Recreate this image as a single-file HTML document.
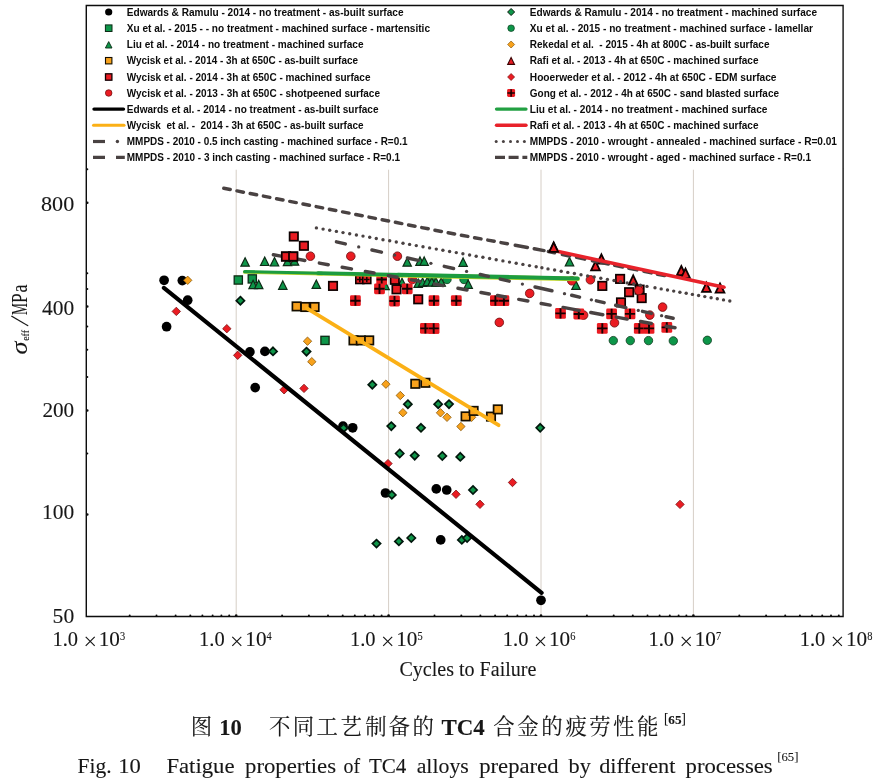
<!DOCTYPE html>
<html><head><meta charset="utf-8"><title>Fig. 10</title>
<style>html,body{margin:0;padding:0;background:#fff}body{width:883px;height:783px;position:relative;overflow:hidden;font-family:"Liberation Serif",serif}</style></head>
<body>
<svg width="883" height="783" viewBox="0 0 883 783" style="position:absolute;left:0;top:0;display:block">
<defs><filter id="bl" x="-2%" y="-2%" width="104%" height="104%"><feGaussianBlur stdDeviation="0.45"/></filter><filter id="bl2" x="-2%" y="-2%" width="104%" height="104%"><feGaussianBlur stdDeviation="0.3"/></filter></defs>
<rect width="883" height="783" fill="#fff"/>
<line x1="236.2" y1="169.7" x2="236.2" y2="616.5" stroke="#d6cec6" stroke-width="1"/>
<line x1="388.6" y1="169.7" x2="388.6" y2="616.5" stroke="#d6cec6" stroke-width="1"/>
<line x1="541.0" y1="169.7" x2="541.0" y2="616.5" stroke="#d6cec6" stroke-width="1"/>
<line x1="693.4" y1="169.7" x2="693.4" y2="616.5" stroke="#d6cec6" stroke-width="1"/>
<g filter="url(#bl)">
<circle cx="164.1" cy="280.3" r="4.85" fill="#000"/>
<circle cx="182.3" cy="280.6" r="4.85" fill="#000"/>
<circle cx="187.7" cy="300.2" r="4.85" fill="#000"/>
<circle cx="166.6" cy="326.7" r="4.85" fill="#000"/>
<circle cx="249.9" cy="351.9" r="4.85" fill="#000"/>
<circle cx="264.9" cy="351.4" r="4.85" fill="#000"/>
<circle cx="255.2" cy="387.6" r="4.85" fill="#000"/>
<circle cx="343.0" cy="426.2" r="4.85" fill="#000"/>
<circle cx="352.7" cy="427.8" r="4.85" fill="#000"/>
<circle cx="385.5" cy="493.0" r="4.85" fill="#000"/>
<circle cx="436.3" cy="488.9" r="4.85" fill="#000"/>
<circle cx="446.7" cy="490.0" r="4.85" fill="#000"/>
<circle cx="440.7" cy="539.9" r="4.85" fill="#000"/>
<circle cx="541.0" cy="600.3" r="4.85" fill="#000"/>
<path d="M240.4 296.6L244.5 300.7L240.4 304.8L236.3 300.7Z" fill="#10964a" stroke="#06180c" stroke-width="1.7" stroke-linejoin="miter"/>
<path d="M273.0 347.3L277.1 351.4L273.0 355.4L268.9 351.4Z" fill="#10964a" stroke="#06180c" stroke-width="1.7" stroke-linejoin="miter"/>
<path d="M306.5 347.6L310.6 351.6L306.5 355.7L302.4 351.6Z" fill="#10964a" stroke="#06180c" stroke-width="1.7" stroke-linejoin="miter"/>
<path d="M343.5 424.1L347.6 428.2L343.5 432.2L339.4 428.2Z" fill="#10964a" stroke="#06180c" stroke-width="1.7" stroke-linejoin="miter"/>
<path d="M372.3 380.6L376.4 384.7L372.3 388.8L368.2 384.7Z" fill="#10964a" stroke="#06180c" stroke-width="1.7" stroke-linejoin="miter"/>
<path d="M407.9 400.1L411.9 404.2L407.9 408.2L403.8 404.2Z" fill="#10964a" stroke="#06180c" stroke-width="1.7" stroke-linejoin="miter"/>
<path d="M438.2 400.1L442.2 404.2L438.2 408.2L434.1 404.2Z" fill="#10964a" stroke="#06180c" stroke-width="1.7" stroke-linejoin="miter"/>
<path d="M449.0 400.1L453.1 404.1L449.0 408.2L444.9 404.1Z" fill="#10964a" stroke="#06180c" stroke-width="1.7" stroke-linejoin="miter"/>
<path d="M391.3 422.1L395.4 426.1L391.3 430.2L387.2 426.1Z" fill="#10964a" stroke="#06180c" stroke-width="1.7" stroke-linejoin="miter"/>
<path d="M421.0 423.8L425.1 427.8L421.0 431.9L416.9 427.8Z" fill="#10964a" stroke="#06180c" stroke-width="1.7" stroke-linejoin="miter"/>
<path d="M399.7 449.4L403.8 453.5L399.7 457.6L395.6 453.5Z" fill="#10964a" stroke="#06180c" stroke-width="1.7" stroke-linejoin="miter"/>
<path d="M414.7 451.6L418.8 455.6L414.7 459.7L410.6 455.6Z" fill="#10964a" stroke="#06180c" stroke-width="1.7" stroke-linejoin="miter"/>
<path d="M442.3 451.9L446.4 456.0L442.3 460.1L438.2 456.0Z" fill="#10964a" stroke="#06180c" stroke-width="1.7" stroke-linejoin="miter"/>
<path d="M460.3 452.8L464.4 456.9L460.3 460.9L456.2 456.9Z" fill="#10964a" stroke="#06180c" stroke-width="1.7" stroke-linejoin="miter"/>
<path d="M540.2 423.8L544.2 427.8L540.2 431.9L536.2 427.8Z" fill="#10964a" stroke="#06180c" stroke-width="1.7" stroke-linejoin="miter"/>
<path d="M473.0 485.9L477.1 490.0L473.0 494.1L468.9 490.0Z" fill="#10964a" stroke="#06180c" stroke-width="1.7" stroke-linejoin="miter"/>
<path d="M391.8 490.8L395.9 494.9L391.8 498.9L387.8 494.9Z" fill="#10964a" stroke="#06180c" stroke-width="1.7" stroke-linejoin="miter"/>
<path d="M376.5 539.6L380.6 543.6L376.5 547.6L372.4 543.6Z" fill="#10964a" stroke="#06180c" stroke-width="1.7" stroke-linejoin="miter"/>
<path d="M398.9 537.4L402.9 541.4L398.9 545.4L394.8 541.4Z" fill="#10964a" stroke="#06180c" stroke-width="1.7" stroke-linejoin="miter"/>
<path d="M411.3 534.0L415.4 538.0L411.3 542.0L407.2 538.0Z" fill="#10964a" stroke="#06180c" stroke-width="1.7" stroke-linejoin="miter"/>
<path d="M461.8 535.9L465.9 539.9L461.8 543.9L457.8 539.9Z" fill="#10964a" stroke="#06180c" stroke-width="1.7" stroke-linejoin="miter"/>
<path d="M467.1 534.0L471.2 538.0L467.1 542.0L463.1 538.0Z" fill="#10964a" stroke="#06180c" stroke-width="1.7" stroke-linejoin="miter"/>
<rect x="234.2" y="275.9" width="8.2" height="8.2" fill="#10964a" stroke="#0a2a14" stroke-width="1.3"/>
<rect x="248.2" y="274.8" width="8.2" height="8.2" fill="#10964a" stroke="#0a2a14" stroke-width="1.3"/>
<rect x="320.9" y="336.3" width="8.2" height="8.2" fill="#10964a" stroke="#0a2a14" stroke-width="1.3"/>
<circle cx="430.8" cy="279.5" r="4.2" fill="#10964a" stroke="#0a3a1c" stroke-width="0.8"/>
<circle cx="447.0" cy="279.5" r="4.2" fill="#10964a" stroke="#0a3a1c" stroke-width="0.8"/>
<circle cx="464.0" cy="279.5" r="4.2" fill="#10964a" stroke="#0a3a1c" stroke-width="0.8"/>
<circle cx="613.3" cy="340.6" r="4.2" fill="#10964a" stroke="#0a3a1c" stroke-width="0.8"/>
<circle cx="630.3" cy="340.6" r="4.2" fill="#10964a" stroke="#0a3a1c" stroke-width="0.8"/>
<circle cx="648.5" cy="340.6" r="4.2" fill="#10964a" stroke="#0a3a1c" stroke-width="0.8"/>
<circle cx="673.3" cy="340.9" r="4.2" fill="#10964a" stroke="#0a3a1c" stroke-width="0.8"/>
<circle cx="707.3" cy="340.3" r="4.2" fill="#10964a" stroke="#0a3a1c" stroke-width="0.8"/>
<path d="M245.1 257.8L249.3 266.2L240.9 266.2Z" fill="#10964a" stroke="#0a2a14" stroke-width="1.2" stroke-linejoin="miter"/>
<path d="M264.7 257.1L268.9 265.5L260.5 265.5Z" fill="#10964a" stroke="#0a2a14" stroke-width="1.2" stroke-linejoin="miter"/>
<path d="M274.5 257.6L278.7 266.0L270.3 266.0Z" fill="#10964a" stroke="#0a2a14" stroke-width="1.2" stroke-linejoin="miter"/>
<path d="M287.5 257.3L291.7 265.7L283.3 265.7Z" fill="#10964a" stroke="#0a2a14" stroke-width="1.2" stroke-linejoin="miter"/>
<path d="M294.5 256.8L298.7 265.2L290.3 265.2Z" fill="#10964a" stroke="#0a2a14" stroke-width="1.2" stroke-linejoin="miter"/>
<path d="M253.1 280.3L257.3 288.7L248.9 288.7Z" fill="#10964a" stroke="#0a2a14" stroke-width="1.2" stroke-linejoin="miter"/>
<path d="M258.7 280.3L262.9 288.7L254.5 288.7Z" fill="#10964a" stroke="#0a2a14" stroke-width="1.2" stroke-linejoin="miter"/>
<path d="M282.8 280.9L287.0 289.3L278.6 289.3Z" fill="#10964a" stroke="#0a2a14" stroke-width="1.2" stroke-linejoin="miter"/>
<path d="M316.3 280.0L320.5 288.4L312.1 288.4Z" fill="#10964a" stroke="#0a2a14" stroke-width="1.2" stroke-linejoin="miter"/>
<path d="M407.2 257.8L411.4 266.2L403.0 266.2Z" fill="#10964a" stroke="#0a2a14" stroke-width="1.2" stroke-linejoin="miter"/>
<path d="M420.0 256.9L424.2 265.3L415.8 265.3Z" fill="#10964a" stroke="#0a2a14" stroke-width="1.2" stroke-linejoin="miter"/>
<path d="M424.2 256.9L428.4 265.3L420.0 265.3Z" fill="#10964a" stroke="#0a2a14" stroke-width="1.2" stroke-linejoin="miter"/>
<path d="M385.1 281.2L389.3 289.6L380.9 289.6Z" fill="#10964a" stroke="#0a2a14" stroke-width="1.2" stroke-linejoin="miter"/>
<path d="M402.0 278.3L406.2 286.7L397.8 286.7Z" fill="#10964a" stroke="#0a2a14" stroke-width="1.2" stroke-linejoin="miter"/>
<path d="M418.2 279.0L422.4 287.4L414.0 287.4Z" fill="#10964a" stroke="#0a2a14" stroke-width="1.2" stroke-linejoin="miter"/>
<path d="M422.6 278.0L426.8 286.4L418.4 286.4Z" fill="#10964a" stroke="#0a2a14" stroke-width="1.2" stroke-linejoin="miter"/>
<path d="M427.3 277.3L431.5 285.7L423.1 285.7Z" fill="#10964a" stroke="#0a2a14" stroke-width="1.2" stroke-linejoin="miter"/>
<path d="M431.8 277.8L436.0 286.2L427.6 286.2Z" fill="#10964a" stroke="#0a2a14" stroke-width="1.2" stroke-linejoin="miter"/>
<path d="M436.0 277.8L440.2 286.2L431.8 286.2Z" fill="#10964a" stroke="#0a2a14" stroke-width="1.2" stroke-linejoin="miter"/>
<path d="M441.2 277.8L445.4 286.2L437.0 286.2Z" fill="#10964a" stroke="#0a2a14" stroke-width="1.2" stroke-linejoin="miter"/>
<path d="M463.1 257.9L467.3 266.3L458.9 266.3Z" fill="#10964a" stroke="#0a2a14" stroke-width="1.2" stroke-linejoin="miter"/>
<path d="M468.2 280.0L472.4 288.4L464.0 288.4Z" fill="#10964a" stroke="#0a2a14" stroke-width="1.2" stroke-linejoin="miter"/>
<path d="M569.5 257.4L573.7 265.8L565.3 265.8Z" fill="#10964a" stroke="#0a2a14" stroke-width="1.2" stroke-linejoin="miter"/>
<path d="M576.0 281.0L580.2 289.4L571.8 289.4Z" fill="#10964a" stroke="#0a2a14" stroke-width="1.2" stroke-linejoin="miter"/>
<path d="M187.7 276.1L191.9 280.3L187.7 284.5L183.5 280.3Z" fill="#f8a21c" stroke="#8a5a10" stroke-width="0.8" stroke-linejoin="miter"/>
<path d="M307.5 337.0L311.7 341.2L307.5 345.4L303.3 341.2Z" fill="#f8a21c" stroke="#8a5a10" stroke-width="0.8" stroke-linejoin="miter"/>
<path d="M311.8 357.5L316.0 361.7L311.8 365.9L307.6 361.7Z" fill="#f8a21c" stroke="#8a5a10" stroke-width="0.8" stroke-linejoin="miter"/>
<path d="M385.9 380.0L390.1 384.2L385.9 388.4L381.7 384.2Z" fill="#f8a21c" stroke="#8a5a10" stroke-width="0.8" stroke-linejoin="miter"/>
<path d="M400.3 391.3L404.5 395.5L400.3 399.7L396.1 395.5Z" fill="#f8a21c" stroke="#8a5a10" stroke-width="0.8" stroke-linejoin="miter"/>
<path d="M402.9 408.5L407.1 412.7L402.9 416.9L398.7 412.7Z" fill="#f8a21c" stroke="#8a5a10" stroke-width="0.8" stroke-linejoin="miter"/>
<path d="M440.5 408.6L444.7 412.8L440.5 417.0L436.3 412.8Z" fill="#f8a21c" stroke="#8a5a10" stroke-width="0.8" stroke-linejoin="miter"/>
<path d="M447.0 413.1L451.2 417.3L447.0 421.5L442.8 417.3Z" fill="#f8a21c" stroke="#8a5a10" stroke-width="0.8" stroke-linejoin="miter"/>
<path d="M460.9 422.3L465.1 426.5L460.9 430.7L456.7 426.5Z" fill="#f8a21c" stroke="#8a5a10" stroke-width="0.8" stroke-linejoin="miter"/>
<path d="M471.6 413.1L475.8 417.3L471.6 421.5L467.4 417.3Z" fill="#f8a21c" stroke="#8a5a10" stroke-width="0.8" stroke-linejoin="miter"/>
<rect x="292.4" y="302.2" width="8.4" height="8.4" fill="#f8a21c" stroke="#141000" stroke-width="1.7"/>
<rect x="301.1" y="302.8" width="8.4" height="8.4" fill="#f8a21c" stroke="#141000" stroke-width="1.7"/>
<rect x="310.4" y="302.8" width="8.4" height="8.4" fill="#f8a21c" stroke="#141000" stroke-width="1.7"/>
<rect x="349.3" y="336.2" width="8.4" height="8.4" fill="#f8a21c" stroke="#141000" stroke-width="1.7"/>
<rect x="356.6" y="336.2" width="8.4" height="8.4" fill="#f8a21c" stroke="#141000" stroke-width="1.7"/>
<rect x="365.0" y="336.2" width="8.4" height="8.4" fill="#f8a21c" stroke="#141000" stroke-width="1.7"/>
<rect x="411.1" y="379.6" width="8.4" height="8.4" fill="#f8a21c" stroke="#141000" stroke-width="1.7"/>
<rect x="421.2" y="378.6" width="8.4" height="8.4" fill="#f8a21c" stroke="#141000" stroke-width="1.7"/>
<rect x="461.4" y="412.2" width="8.4" height="8.4" fill="#f8a21c" stroke="#141000" stroke-width="1.7"/>
<rect x="469.4" y="406.7" width="8.4" height="8.4" fill="#f8a21c" stroke="#141000" stroke-width="1.7"/>
<rect x="486.8" y="412.4" width="8.4" height="8.4" fill="#f8a21c" stroke="#141000" stroke-width="1.7"/>
<rect x="493.6" y="405.2" width="8.4" height="8.4" fill="#f8a21c" stroke="#141000" stroke-width="1.7"/>
<path d="M553.7 242.7L558.1 251.9L549.3 251.9Z" fill="#ea1c24" stroke="#100000" stroke-width="1.8" stroke-linejoin="miter"/>
<path d="M601.4 254.4L605.8 263.6L597.0 263.6Z" fill="#ea1c24" stroke="#100000" stroke-width="1.8" stroke-linejoin="miter"/>
<path d="M595.5 261.1L599.9 270.3L591.1 270.3Z" fill="#ea1c24" stroke="#100000" stroke-width="1.8" stroke-linejoin="miter"/>
<path d="M633.2 275.4L637.6 284.6L628.8 284.6Z" fill="#ea1c24" stroke="#100000" stroke-width="1.8" stroke-linejoin="miter"/>
<path d="M681.3 266.0L685.7 275.2L676.9 275.2Z" fill="#ea1c24" stroke="#100000" stroke-width="1.8" stroke-linejoin="miter"/>
<path d="M685.5 268.6L689.9 277.8L681.1 277.8Z" fill="#ea1c24" stroke="#100000" stroke-width="1.8" stroke-linejoin="miter"/>
<path d="M706.4 282.7L710.8 291.9L702.0 291.9Z" fill="#ea1c24" stroke="#100000" stroke-width="1.8" stroke-linejoin="miter"/>
<path d="M720.0 283.5L724.4 292.7L715.6 292.7Z" fill="#ea1c24" stroke="#100000" stroke-width="1.8" stroke-linejoin="miter"/>
<rect x="289.6" y="232.3" width="8.4" height="8.4" fill="#ea1c24" stroke="#100000" stroke-width="1.7"/>
<rect x="299.7" y="241.6" width="8.4" height="8.4" fill="#ea1c24" stroke="#100000" stroke-width="1.7"/>
<rect x="281.8" y="252.3" width="8.4" height="8.4" fill="#ea1c24" stroke="#100000" stroke-width="1.7"/>
<rect x="289.0" y="252.3" width="8.4" height="8.4" fill="#ea1c24" stroke="#100000" stroke-width="1.7"/>
<rect x="328.8" y="281.7" width="8.4" height="8.4" fill="#ea1c24" stroke="#100000" stroke-width="1.7"/>
<rect x="390.6" y="275.6" width="8.4" height="8.4" fill="#ea1c24" stroke="#100000" stroke-width="1.7"/>
<rect x="392.3" y="285.1" width="8.4" height="8.4" fill="#ea1c24" stroke="#100000" stroke-width="1.7"/>
<rect x="414.0" y="295.1" width="8.4" height="8.4" fill="#ea1c24" stroke="#100000" stroke-width="1.7"/>
<rect x="615.9" y="274.7" width="8.4" height="8.4" fill="#ea1c24" stroke="#100000" stroke-width="1.7"/>
<rect x="598.1" y="281.7" width="8.4" height="8.4" fill="#ea1c24" stroke="#100000" stroke-width="1.7"/>
<rect x="624.9" y="288.0" width="8.4" height="8.4" fill="#ea1c24" stroke="#100000" stroke-width="1.7"/>
<rect x="635.4" y="285.4" width="8.4" height="8.4" fill="#ea1c24" stroke="#100000" stroke-width="1.7"/>
<rect x="637.5" y="293.9" width="8.4" height="8.4" fill="#ea1c24" stroke="#100000" stroke-width="1.7"/>
<rect x="616.8" y="298.2" width="8.4" height="8.4" fill="#ea1c24" stroke="#100000" stroke-width="1.7"/>
<path d="M176.3 307.2L180.5 311.4L176.3 315.6L172.1 311.4Z" fill="#ea1c24" stroke="#7a1010" stroke-width="0.8" stroke-linejoin="miter"/>
<path d="M226.8 324.5L231.0 328.7L226.8 332.9L222.6 328.7Z" fill="#ea1c24" stroke="#7a1010" stroke-width="0.8" stroke-linejoin="miter"/>
<path d="M237.7 351.1L241.9 355.3L237.7 359.5L233.5 355.3Z" fill="#ea1c24" stroke="#7a1010" stroke-width="0.8" stroke-linejoin="miter"/>
<path d="M284.1 385.6L288.3 389.8L284.1 394.0L279.9 389.8Z" fill="#ea1c24" stroke="#7a1010" stroke-width="0.8" stroke-linejoin="miter"/>
<path d="M304.0 384.2L308.2 388.4L304.0 392.6L299.8 388.4Z" fill="#ea1c24" stroke="#7a1010" stroke-width="0.8" stroke-linejoin="miter"/>
<path d="M388.0 459.4L392.2 463.6L388.0 467.8L383.8 463.6Z" fill="#ea1c24" stroke="#7a1010" stroke-width="0.8" stroke-linejoin="miter"/>
<path d="M456.0 490.1L460.2 494.3L456.0 498.5L451.8 494.3Z" fill="#ea1c24" stroke="#7a1010" stroke-width="0.8" stroke-linejoin="miter"/>
<path d="M480.0 500.1L484.2 504.3L480.0 508.5L475.8 504.3Z" fill="#ea1c24" stroke="#7a1010" stroke-width="0.8" stroke-linejoin="miter"/>
<path d="M512.5 478.3L516.7 482.5L512.5 486.7L508.3 482.5Z" fill="#ea1c24" stroke="#7a1010" stroke-width="0.8" stroke-linejoin="miter"/>
<path d="M680.0 500.2L684.2 504.4L680.0 508.6L675.8 504.4Z" fill="#ea1c24" stroke="#7a1010" stroke-width="0.8" stroke-linejoin="miter"/>
<circle cx="310.4" cy="256.2" r="4.3" fill="#ea1c24" stroke="#6a0c0c" stroke-width="0.8"/>
<circle cx="350.8" cy="256.2" r="4.3" fill="#ea1c24" stroke="#6a0c0c" stroke-width="0.8"/>
<circle cx="397.4" cy="256.2" r="4.3" fill="#ea1c24" stroke="#6a0c0c" stroke-width="0.8"/>
<circle cx="412.3" cy="279.5" r="4.3" fill="#ea1c24" stroke="#6a0c0c" stroke-width="0.8"/>
<circle cx="529.7" cy="293.4" r="4.3" fill="#ea1c24" stroke="#6a0c0c" stroke-width="0.8"/>
<circle cx="499.3" cy="322.4" r="4.3" fill="#ea1c24" stroke="#6a0c0c" stroke-width="0.8"/>
<circle cx="571.8" cy="280.8" r="4.3" fill="#ea1c24" stroke="#6a0c0c" stroke-width="0.8"/>
<circle cx="590.4" cy="279.8" r="4.3" fill="#ea1c24" stroke="#6a0c0c" stroke-width="0.8"/>
<circle cx="638.8" cy="290.5" r="4.3" fill="#ea1c24" stroke="#6a0c0c" stroke-width="0.8"/>
<circle cx="662.6" cy="307.1" r="4.3" fill="#ea1c24" stroke="#6a0c0c" stroke-width="0.8"/>
<circle cx="649.8" cy="315.1" r="4.3" fill="#ea1c24" stroke="#6a0c0c" stroke-width="0.8"/>
<circle cx="583.6" cy="315.1" r="4.3" fill="#ea1c24" stroke="#6a0c0c" stroke-width="0.8"/>
<circle cx="614.5" cy="322.8" r="4.3" fill="#ea1c24" stroke="#6a0c0c" stroke-width="0.8"/>
<rect x="355.8" y="275.5" width="8.0" height="8.0" fill="#ea1c24" stroke="#100000" stroke-width="1.6"/>
<path d="M357.0 279.5H362.6M359.8 276.7V282.3" stroke="#140000" stroke-width="1.5" fill="none"/>
<rect x="362.8" y="275.5" width="8.0" height="8.0" fill="#ea1c24" stroke="#100000" stroke-width="1.6"/>
<path d="M364.0 279.5H369.6M366.8 276.7V282.3" stroke="#140000" stroke-width="1.5" fill="none"/>
<rect x="376.3" y="274.1" width="10.8" height="10.8" rx="1.4" fill="#ea1c24"/><path d="M376.6 279.5H386.8M381.7 274.4V284.6" stroke="#140000" stroke-width="1.9" fill="none"/>
<rect x="374.1" y="283.4" width="10.8" height="10.8" rx="1.4" fill="#ea1c24"/><path d="M374.4 288.8H384.6M379.5 283.7V293.9" stroke="#140000" stroke-width="1.9" fill="none"/>
<rect x="350.0" y="295.3" width="10.8" height="10.8" rx="1.4" fill="#ea1c24"/><path d="M350.3 300.7H360.5M355.4 295.6V305.8" stroke="#140000" stroke-width="1.9" fill="none"/>
<rect x="389.1" y="295.6" width="10.8" height="10.8" rx="1.4" fill="#ea1c24"/><path d="M389.4 301.0H399.6M394.5 295.9V306.1" stroke="#140000" stroke-width="1.9" fill="none"/>
<rect x="401.8" y="283.4" width="10.8" height="10.8" rx="1.4" fill="#ea1c24"/><path d="M402.1 288.8H412.3M407.2 283.7V293.9" stroke="#140000" stroke-width="1.9" fill="none"/>
<rect x="428.6" y="295.3" width="10.8" height="10.8" rx="1.4" fill="#ea1c24"/><path d="M428.9 300.7H439.1M434.0 295.6V305.8" stroke="#140000" stroke-width="1.9" fill="none"/>
<rect x="420.0" y="323.0" width="10.8" height="10.8" rx="1.4" fill="#ea1c24"/><path d="M420.3 328.4H430.5M425.4 323.3V333.5" stroke="#140000" stroke-width="1.9" fill="none"/>
<rect x="428.6" y="323.0" width="10.8" height="10.8" rx="1.4" fill="#ea1c24"/><path d="M428.9 328.4H439.1M434.0 323.3V333.5" stroke="#140000" stroke-width="1.9" fill="none"/>
<rect x="450.9" y="295.3" width="10.8" height="10.8" rx="1.4" fill="#ea1c24"/><path d="M451.2 300.7H461.4M456.3 295.6V305.8" stroke="#140000" stroke-width="1.9" fill="none"/>
<rect x="490.0" y="295.3" width="10.8" height="10.8" rx="1.4" fill="#ea1c24"/><path d="M490.3 300.7H500.5M495.4 295.6V305.8" stroke="#140000" stroke-width="1.9" fill="none"/>
<rect x="498.5" y="295.3" width="10.8" height="10.8" rx="1.4" fill="#ea1c24"/><path d="M498.8 300.7H509.0M503.9 295.6V305.8" stroke="#140000" stroke-width="1.9" fill="none"/>
<rect x="428.3" y="323.0" width="10.8" height="10.8" rx="1.4" fill="#ea1c24"/><path d="M428.6 328.4H438.8M433.7 323.3V333.5" stroke="#140000" stroke-width="1.9" fill="none"/>
<rect x="555.1" y="308.0" width="10.8" height="10.8" rx="1.4" fill="#ea1c24"/><path d="M555.4 313.4H565.6M560.5 308.3V318.5" stroke="#140000" stroke-width="1.9" fill="none"/>
<rect x="573.4" y="308.6" width="10.8" height="10.8" rx="1.4" fill="#ea1c24"/><path d="M573.7 314.0H583.9M578.8 308.9V319.1" stroke="#140000" stroke-width="1.9" fill="none"/>
<rect x="606.2" y="308.5" width="10.8" height="10.8" rx="1.4" fill="#ea1c24"/><path d="M606.5 313.9H616.7M611.6 308.8V319.0" stroke="#140000" stroke-width="1.9" fill="none"/>
<rect x="624.6" y="308.5" width="10.8" height="10.8" rx="1.4" fill="#ea1c24"/><path d="M624.9 313.9H635.1M630.0 308.8V319.0" stroke="#140000" stroke-width="1.9" fill="none"/>
<rect x="596.9" y="323.0" width="10.8" height="10.8" rx="1.4" fill="#ea1c24"/><path d="M597.2 328.4H607.4M602.3 323.3V333.5" stroke="#140000" stroke-width="1.9" fill="none"/>
<rect x="633.9" y="323.0" width="10.8" height="10.8" rx="1.4" fill="#ea1c24"/><path d="M634.2 328.4H644.4M639.3 323.3V333.5" stroke="#140000" stroke-width="1.9" fill="none"/>
<rect x="643.6" y="323.0" width="10.8" height="10.8" rx="1.4" fill="#ea1c24"/><path d="M643.9 328.4H654.1M649.0 323.3V333.5" stroke="#140000" stroke-width="1.9" fill="none"/>
<rect x="661.4" y="322.0" width="10.8" height="10.8" rx="1.4" fill="#ea1c24"/><path d="M661.7 327.4H671.9M666.8 322.3V332.5" stroke="#140000" stroke-width="1.9" fill="none"/>
<line x1="163.9" y1="287.9" x2="541.6" y2="592.8" stroke="#000" stroke-width="4.2" stroke-linecap="round"/>
<line x1="244.6" y1="272.15" x2="322" y2="273.75" stroke="#c4d82c" stroke-width="3.3" stroke-linecap="round"/>
<line x1="318" y1="273.67" x2="402" y2="275.41" stroke="#c4d82c" stroke-width="3.9" stroke-linecap="round"/>
<line x1="398" y1="275.33" x2="577.6" y2="279.05" stroke="#c4d82c" stroke-width="4.5" stroke-linecap="round"/>
<line x1="244.6" y1="271.60" x2="322" y2="273.20" stroke="#1d9c3f" stroke-width="3.1" stroke-linecap="round"/>
<line x1="318" y1="273.12" x2="402" y2="274.86" stroke="#1d9c3f" stroke-width="3.6" stroke-linecap="round"/>
<line x1="398" y1="274.78" x2="577.6" y2="278.50" stroke="#1d9c3f" stroke-width="4.1" stroke-linecap="round"/>
<line x1="307" y1="308.3" x2="498.6" y2="425.2" stroke="#fbb017" stroke-width="3.7" stroke-linecap="round"/>
<path d="M336.5 241.9L345.3 243.9M372.0 250.0L381.4 252.1M407.5 258.0L418.2 260.4M444.3 266.4L453.5 268.5M480.3 274.5L488.4 276.4M500.3 279.1L509.2 281.1M535.1 287.0L551.9 290.8M571.7 295.3L579.5 297.1M596.4 300.9L604.1 302.6M615.7 305.3L625.8 307.6M642.5 311.4L651.3 313.4M666.2 316.7L673.1 318.3" stroke="#4a4242" stroke-width="3.5" stroke-linecap="round" fill="none"/>
<circle cx="358.7" cy="246.9" r="1.65" fill="#4a4242"/>
<circle cx="394.7" cy="255.1" r="1.65" fill="#4a4242"/>
<circle cx="430.9" cy="263.3" r="1.65" fill="#4a4242"/>
<circle cx="466.6" cy="271.4" r="1.65" fill="#4a4242"/>
<circle cx="522.4" cy="284.1" r="1.65" fill="#4a4242"/>
<circle cx="564.5" cy="293.7" r="1.65" fill="#4a4242"/>
<circle cx="591.4" cy="299.8" r="1.65" fill="#4a4242"/>
<circle cx="638.3" cy="310.4" r="1.65" fill="#4a4242"/>
<circle cx="661.6" cy="315.7" r="1.65" fill="#4a4242"/>
<path d="M273.4 254.7L281.0 256.1M296.4 258.9L304.8 260.5M319.4 263.1L328.2 264.7M342.2 267.3L351.4 268.9M365.4 271.5L374.0 273.0M388.4 275.7L397.1 277.2M411.4 279.9L420.1 281.4M434.4 284.0L443.1 285.6M458.0 288.3L467.0 290.0M481.0 292.5L489.3 294.0M497.5 295.5L505.5 297.0M518.8 299.4L527.8 301.0M541.2 303.5L550.1 305.1M563.1 307.4L579.1 310.4M590.8 312.5L602.8 314.7M616.3 317.1L627.1 319.1M640.6 321.5L651.3 323.5M666.2 326.2L675.0 327.8" stroke="#4a4242" stroke-width="3.5" stroke-linecap="round" fill="none"/>
<rect x="281.8" y="252.3" width="8.4" height="8.4" fill="#ea1c24" stroke="#100000" stroke-width="1.7"/>
<rect x="289.0" y="252.3" width="8.4" height="8.4" fill="#ea1c24" stroke="#100000" stroke-width="1.7"/>
<path d="M223.8 188.3L230.2 189.5M237.0 190.9L243.4 192.2M250.2 193.5L256.6 194.8M263.4 196.1L269.8 197.4M276.6 198.8L283.0 200.0M289.8 201.4L296.2 202.6M303.0 204.0L309.4 205.3M316.2 206.6L322.6 207.9M329.4 209.2L335.8 210.5M342.6 211.9L349.0 213.1M355.8 214.5L362.2 215.7M369.0 217.1L375.4 218.4M382.2 219.7L388.6 221.0M395.4 222.3L401.8 223.6M408.6 225.0L415.0 226.2M421.8 227.6L428.2 228.8M435.0 230.2L441.4 231.5M448.2 232.8L454.6 234.0M461.4 235.2L467.8 236.4M474.6 237.7L481.0 238.9M487.8 240.1L494.2 241.3M501.0 242.6L507.4 243.8M515.3 245.2L527.4 247.5M534.3 248.7L544.0 250.6M548.4 251.5L554.6 252.8M562.4 254.5L569.7 256.0M576.6 257.4L584.7 259.1M592.5 260.7L597.4 261.7M601.4 262.5L608.5 264.0M614.7 265.3L622.8 267.0M628.9 268.3L637.0 269.9M644.0 271.4L651.3 272.9M657.5 274.2L664.5 275.6" stroke="#4a4242" stroke-width="3.5" stroke-linecap="round" fill="none"/>
<path d="M556 251L724 287.3" stroke="#e8222c" stroke-width="3.5" stroke-linecap="butt"/><circle cx="724" cy="287.3" r="1.75" fill="#e8222c"/>
<path d="M553.7 242.7L558.1 251.9L549.3 251.9Z" fill="#ea1c24" stroke="#100000" stroke-width="1.8" stroke-linejoin="miter"/>
<circle cx="316.4" cy="227.9" r="1.7" fill="#4a4242"/><circle cx="323.1" cy="229.1" r="1.7" fill="#4a4242"/><circle cx="329.7" cy="230.2" r="1.7" fill="#4a4242"/><circle cx="336.4" cy="231.4" r="1.7" fill="#4a4242"/><circle cx="343.0" cy="232.6" r="1.7" fill="#4a4242"/><circle cx="349.7" cy="233.8" r="1.7" fill="#4a4242"/><circle cx="356.4" cy="235.0" r="1.7" fill="#4a4242"/><circle cx="363.0" cy="236.1" r="1.7" fill="#4a4242"/><circle cx="369.7" cy="237.3" r="1.7" fill="#4a4242"/><circle cx="376.3" cy="238.5" r="1.7" fill="#4a4242"/><circle cx="383.0" cy="239.7" r="1.7" fill="#4a4242"/><circle cx="389.7" cy="240.8" r="1.7" fill="#4a4242"/><circle cx="396.3" cy="242.0" r="1.7" fill="#4a4242"/><circle cx="403.0" cy="243.2" r="1.7" fill="#4a4242"/><circle cx="409.6" cy="244.4" r="1.7" fill="#4a4242"/><circle cx="416.3" cy="245.6" r="1.7" fill="#4a4242"/><circle cx="423.0" cy="246.7" r="1.7" fill="#4a4242"/><circle cx="429.6" cy="247.9" r="1.7" fill="#4a4242"/><circle cx="436.3" cy="249.1" r="1.7" fill="#4a4242"/><circle cx="442.9" cy="250.3" r="1.7" fill="#4a4242"/><circle cx="449.6" cy="251.5" r="1.7" fill="#4a4242"/><circle cx="456.3" cy="252.6" r="1.7" fill="#4a4242"/><circle cx="462.9" cy="253.8" r="1.7" fill="#4a4242"/><circle cx="469.6" cy="255.0" r="1.7" fill="#4a4242"/><circle cx="476.2" cy="256.2" r="1.7" fill="#4a4242"/><circle cx="482.9" cy="257.3" r="1.7" fill="#4a4242"/><circle cx="489.6" cy="258.5" r="1.7" fill="#4a4242"/><circle cx="496.2" cy="259.7" r="1.7" fill="#4a4242"/><circle cx="502.9" cy="260.9" r="1.7" fill="#4a4242"/><circle cx="509.5" cy="262.1" r="1.7" fill="#4a4242"/><circle cx="516.2" cy="263.2" r="1.7" fill="#4a4242"/><circle cx="522.9" cy="264.4" r="1.7" fill="#4a4242"/><circle cx="529.5" cy="265.6" r="1.7" fill="#4a4242"/><circle cx="536.2" cy="266.8" r="1.7" fill="#4a4242"/><circle cx="541.9" cy="267.8" r="1.7" fill="#4a4242"/><circle cx="548.0" cy="268.9" r="1.7" fill="#4a4242"/><circle cx="554.6" cy="270.0" r="1.7" fill="#4a4242"/><circle cx="561.2" cy="271.2" r="1.7" fill="#4a4242"/><circle cx="567.8" cy="272.4" r="1.7" fill="#4a4242"/><circle cx="574.4" cy="273.5" r="1.7" fill="#4a4242"/><circle cx="581.0" cy="274.7" r="1.7" fill="#4a4242"/><circle cx="587.6" cy="275.9" r="1.7" fill="#4a4242"/><circle cx="594.2" cy="277.0" r="1.7" fill="#4a4242"/><circle cx="600.8" cy="278.2" r="1.7" fill="#4a4242"/><circle cx="607.4" cy="279.4" r="1.7" fill="#4a4242"/><circle cx="614.0" cy="280.5" r="1.7" fill="#4a4242"/><circle cx="620.6" cy="281.7" r="1.7" fill="#4a4242"/><circle cx="627.2" cy="282.9" r="1.7" fill="#4a4242"/><circle cx="633.8" cy="284.0" r="1.7" fill="#4a4242"/><circle cx="640.4" cy="285.2" r="1.7" fill="#4a4242"/><circle cx="647.0" cy="286.4" r="1.7" fill="#4a4242"/><circle cx="655.0" cy="287.8" r="1.7" fill="#4a4242"/><circle cx="661.2" cy="288.9" r="1.7" fill="#4a4242"/><circle cx="667.5" cy="290.0" r="1.7" fill="#4a4242"/><circle cx="673.7" cy="291.1" r="1.7" fill="#4a4242"/><circle cx="679.9" cy="292.2" r="1.7" fill="#4a4242"/><circle cx="686.2" cy="293.3" r="1.7" fill="#4a4242"/><circle cx="692.4" cy="294.4" r="1.7" fill="#4a4242"/><circle cx="698.6" cy="295.5" r="1.7" fill="#4a4242"/><circle cx="704.8" cy="296.6" r="1.7" fill="#4a4242"/><circle cx="711.1" cy="297.7" r="1.7" fill="#4a4242"/><circle cx="717.3" cy="298.8" r="1.7" fill="#4a4242"/><circle cx="723.5" cy="299.9" r="1.7" fill="#4a4242"/><circle cx="729.8" cy="301.0" r="1.7" fill="#4a4242"/>
<rect x="86.3" y="5.5" width="756.8000000000001" height="163.2" fill="#fff"/>
<path d="M86.3 5.5H843.1V616.5H86.3Z" fill="none" stroke="#111" stroke-width="1.4"/>
<circle cx="129.7" cy="615.6" r="1.0" fill="#111"/>
<circle cx="156.5" cy="615.6" r="1.0" fill="#111"/>
<circle cx="175.6" cy="615.6" r="1.0" fill="#111"/>
<circle cx="190.3" cy="615.6" r="1.0" fill="#111"/>
<circle cx="202.4" cy="615.6" r="1.0" fill="#111"/>
<circle cx="212.6" cy="615.6" r="1.0" fill="#111"/>
<circle cx="221.4" cy="615.6" r="1.0" fill="#111"/>
<circle cx="229.2" cy="615.6" r="1.0" fill="#111"/>
<circle cx="236.2" cy="615.6" r="1.3" fill="#111"/>
<circle cx="282.1" cy="615.6" r="1.0" fill="#111"/>
<circle cx="308.9" cy="615.6" r="1.0" fill="#111"/>
<circle cx="328.0" cy="615.6" r="1.0" fill="#111"/>
<circle cx="342.7" cy="615.6" r="1.0" fill="#111"/>
<circle cx="354.8" cy="615.6" r="1.0" fill="#111"/>
<circle cx="365.0" cy="615.6" r="1.0" fill="#111"/>
<circle cx="373.8" cy="615.6" r="1.0" fill="#111"/>
<circle cx="381.6" cy="615.6" r="1.0" fill="#111"/>
<circle cx="388.6" cy="615.6" r="1.3" fill="#111"/>
<circle cx="434.5" cy="615.6" r="1.0" fill="#111"/>
<circle cx="461.3" cy="615.6" r="1.0" fill="#111"/>
<circle cx="480.4" cy="615.6" r="1.0" fill="#111"/>
<circle cx="495.1" cy="615.6" r="1.0" fill="#111"/>
<circle cx="507.2" cy="615.6" r="1.0" fill="#111"/>
<circle cx="517.4" cy="615.6" r="1.0" fill="#111"/>
<circle cx="526.2" cy="615.6" r="1.0" fill="#111"/>
<circle cx="534.0" cy="615.6" r="1.0" fill="#111"/>
<circle cx="541.0" cy="615.6" r="1.3" fill="#111"/>
<circle cx="586.9" cy="615.6" r="1.0" fill="#111"/>
<circle cx="613.7" cy="615.6" r="1.0" fill="#111"/>
<circle cx="632.8" cy="615.6" r="1.0" fill="#111"/>
<circle cx="647.5" cy="615.6" r="1.0" fill="#111"/>
<circle cx="659.6" cy="615.6" r="1.0" fill="#111"/>
<circle cx="669.8" cy="615.6" r="1.0" fill="#111"/>
<circle cx="678.6" cy="615.6" r="1.0" fill="#111"/>
<circle cx="686.4" cy="615.6" r="1.0" fill="#111"/>
<circle cx="693.4" cy="615.6" r="1.3" fill="#111"/>
<circle cx="739.3" cy="615.6" r="1.0" fill="#111"/>
<circle cx="766.1" cy="615.6" r="1.0" fill="#111"/>
<circle cx="785.2" cy="615.6" r="1.0" fill="#111"/>
<circle cx="799.9" cy="615.6" r="1.0" fill="#111"/>
<circle cx="812.0" cy="615.6" r="1.0" fill="#111"/>
<circle cx="822.2" cy="615.6" r="1.0" fill="#111"/>
<circle cx="831.0" cy="615.6" r="1.0" fill="#111"/>
<circle cx="838.8" cy="615.6" r="1.0" fill="#111"/>
<circle cx="87.3" cy="514.4" r="1.25" fill="#111"/>
<circle cx="87.3" cy="453.6" r="1.0" fill="#111"/>
<circle cx="87.3" cy="410.5" r="1.25" fill="#111"/>
<circle cx="87.3" cy="377.1" r="1.0" fill="#111"/>
<circle cx="87.3" cy="349.7" r="1.0" fill="#111"/>
<circle cx="87.3" cy="326.6" r="1.0" fill="#111"/>
<circle cx="87.3" cy="306.6" r="1.25" fill="#111"/>
<circle cx="87.3" cy="288.9" r="1.0" fill="#111"/>
<circle cx="87.3" cy="273.2" r="1.0" fill="#111"/>
<circle cx="87.3" cy="202.7" r="1.25" fill="#111"/>
<circle cx="87.3" cy="169.3" r="1.0" fill="#111"/>
<circle cx="108.7" cy="12.0" r="3.6" fill="#000"/>
<rect x="105.4" y="24.9" width="6.6" height="6.6" fill="#10964a" stroke="#0a2a14" stroke-width="1.0"/>
<path d="M108.7 41.6L112.0 48.0L105.4 48.0Z" fill="#10964a" stroke="#0a2a14" stroke-width="0.9" stroke-linejoin="miter"/>
<rect x="105.5" y="57.5" width="6.4" height="6.4" fill="#f8a21c" stroke="#141000" stroke-width="1.1"/>
<rect x="105.5" y="73.8" width="6.4" height="6.4" fill="#ea1c24" stroke="#100000" stroke-width="1.3"/>
<circle cx="108.7" cy="93.0" r="3.3" fill="#ea1c24" stroke="#6a0c0c" stroke-width="0.7"/>
<line x1="94" y1="109.1" x2="123.5" y2="109.1" stroke="#000" stroke-width="3.4" stroke-linecap="round"/>
<line x1="93.5" y1="125.3" x2="124" y2="125.3" stroke="#fbb017" stroke-width="3.0" stroke-linecap="round"/>
<path d="M93 141.5H105" stroke="#4a4242" stroke-width="3.2"/><circle cx="117.4" cy="141.5" r="1.7" fill="#4a4242"/>
<path d="M93 157.3H105M116 157.3H124.8" stroke="#4a4242" stroke-width="3.2"/>
<path d="M511.1 8.5L514.6 12.0L511.1 15.5L507.6 12.0Z" fill="#10964a" stroke="#06180c" stroke-width="1.0" stroke-linejoin="miter"/>
<circle cx="511.1" cy="28.2" r="3.3" fill="#10964a" stroke="#0a3a1c" stroke-width="0.7"/>
<path d="M511.1 41.0L514.6 44.5L511.1 48.0L507.6 44.5Z" fill="#f8a21c" stroke="#8a5a10" stroke-width="0.7" stroke-linejoin="miter"/>
<path d="M511.1 57.6L514.5 64.4L507.7 64.4Z" fill="#ea1c24" stroke="#3a0606" stroke-width="1.1" stroke-linejoin="miter"/>
<path d="M511.1 73.5L514.6 77.0L511.1 80.5L507.6 77.0Z" fill="#ea1c24" stroke="#7a1010" stroke-width="0.7" stroke-linejoin="miter"/>
<rect x="507.1" y="89.0" width="8.0" height="8.0" rx="1.4" fill="#ea1c24"/><path d="M507.4 93.0H514.8M511.1 89.3V96.7" stroke="#140000" stroke-width="1.5" fill="none"/>
<line x1="496.5" y1="109.1" x2="526" y2="109.1" stroke="#22a043" stroke-width="3.3" stroke-linecap="round"/>
<line x1="496.5" y1="125.3" x2="526" y2="125.3" stroke="#e8222c" stroke-width="3.4" stroke-linecap="round"/>
<circle cx="496.2" cy="141.5" r="1.5" fill="#4a4242"/>
<circle cx="503.4" cy="141.5" r="1.5" fill="#4a4242"/>
<circle cx="510.5" cy="141.5" r="1.5" fill="#4a4242"/>
<circle cx="517.5" cy="141.5" r="1.5" fill="#4a4242"/>
<circle cx="524.4" cy="141.5" r="1.5" fill="#4a4242"/>
<path d="M495 157.3H505M508.6 157.3H518.6M522.4 157.3H527.3" stroke="#4a4242" stroke-width="3.3"/>
<g font-family="'Liberation Sans', sans-serif" font-weight="bold" font-size="10.4" fill="#0b0b0b" xml:space="preserve" style="white-space:pre">
<text x="126.8" y="15.6" textLength="276.7" lengthAdjust="spacingAndGlyphs">Edwards &amp; Ramulu - 2014 - no treatment - as-built surface</text>
<text x="126.8" y="31.8" textLength="303.2" lengthAdjust="spacingAndGlyphs">Xu et al. - 2015 - - no treatment - machined surface - martensitic</text>
<text x="126.8" y="48.1" textLength="236.7" lengthAdjust="spacingAndGlyphs">Liu et al. - 2014 - no treatment - machined surface</text>
<text x="126.8" y="64.3" textLength="231.2" lengthAdjust="spacingAndGlyphs">Wycisk et al. - 2014 - 3h at 650C - as-built surface</text>
<text x="126.8" y="80.6" textLength="243.7" lengthAdjust="spacingAndGlyphs">Wycisk et al. - 2014 - 3h at 650C - machined surface</text>
<text x="126.8" y="96.6" textLength="253.2" lengthAdjust="spacingAndGlyphs">Wycisk et al. - 2013 - 3h at 650C - shotpeened surface</text>
<text x="126.8" y="112.7" textLength="251.7" lengthAdjust="spacingAndGlyphs">Edwards et al. - 2014 - no treatment - as-built surface</text>
<text x="126.8" y="128.9" textLength="236.7" lengthAdjust="spacingAndGlyphs">Wycisk&#160; et al. -&#160; 2014 - 3h at 650C - as-built surface</text>
<text x="126.8" y="145.1" textLength="280.7" lengthAdjust="spacingAndGlyphs">MMPDS - 2010 - 0.5 inch casting - machined surface - R=0.1</text>
<text x="126.8" y="160.9" textLength="273.2" lengthAdjust="spacingAndGlyphs">MMPDS - 2010 - 3 inch casting - machined surface - R=0.1</text>
<text x="529.8" y="15.6" textLength="287.2" lengthAdjust="spacingAndGlyphs">Edwards &amp; Ramulu - 2014 - no treatment - machined surface</text>
<text x="529.8" y="31.8" textLength="283.2" lengthAdjust="spacingAndGlyphs">Xu et al. - 2015 - no treatment - machined surface - lamellar</text>
<text x="529.8" y="48.1" textLength="239.7" lengthAdjust="spacingAndGlyphs">Rekedal et al.&#160; - 2015 - 4h at 800C - as-built surface</text>
<text x="529.8" y="64.3" textLength="228.7" lengthAdjust="spacingAndGlyphs">Rafi et al. - 2013 - 4h at 650C - machined surface</text>
<text x="529.8" y="80.6" textLength="246.7" lengthAdjust="spacingAndGlyphs">Hooerweder et al. - 2012 - 4h at 650C - EDM surface</text>
<text x="529.8" y="96.6" textLength="249.2" lengthAdjust="spacingAndGlyphs">Gong et al. - 2012 - 4h at 650C - sand blasted surface</text>
<text x="529.8" y="112.7" textLength="237.7" lengthAdjust="spacingAndGlyphs">Liu et al. - 2014 - no treatment - machined surface</text>
<text x="529.8" y="128.9" textLength="228.7" lengthAdjust="spacingAndGlyphs">Rafi et al. - 2013 - 4h at 650C - machined surface</text>
<text x="529.8" y="145.1" textLength="307.2" lengthAdjust="spacingAndGlyphs">MMPDS - 2010 - wrought - annealed - machined surface - R=0.01</text>
<text x="529.8" y="160.9" textLength="281.2" lengthAdjust="spacingAndGlyphs">MMPDS - 2010 - wrought - aged - machined surface - R=0.1</text>
</g>
</g>
<g font-family="'Liberation Serif', serif" fill="#161616" stroke="#161616" stroke-width="0.1" filter="url(#bl2)">
<text x="74.2" y="211.3" font-size="20.6" textLength="33.2" lengthAdjust="spacingAndGlyphs" text-anchor="end">800</text>
<text x="74.2" y="315.0" font-size="20.6" textLength="32.2" lengthAdjust="spacingAndGlyphs" text-anchor="end">400</text>
<text x="74.2" y="416.9" font-size="20.6" textLength="31.8" lengthAdjust="spacingAndGlyphs" text-anchor="end">200</text>
<text x="74.2" y="519.4" font-size="20.6" textLength="32.2" lengthAdjust="spacingAndGlyphs" text-anchor="end">100</text>
<text x="74.2" y="622.6" font-size="20.6" textLength="21.6" lengthAdjust="spacingAndGlyphs" text-anchor="end">50</text>
<text x="52.5" y="646.3" font-size="20.6" textLength="25.6" lengthAdjust="spacingAndGlyphs" >1.0</text>
<path d="M85.7 636.9L94.7 645.9M94.7 636.9L85.7 645.9" stroke-width="1.15" fill="none"/>
<text x="98.7" y="646.3" font-size="20.6" textLength="21.2" lengthAdjust="spacingAndGlyphs" >10</text>
<text x="120.0" y="639.5" font-size="11.6" textLength="5.2" lengthAdjust="spacingAndGlyphs" >3</text>
<text x="199.1" y="646.3" font-size="20.6" textLength="25.6" lengthAdjust="spacingAndGlyphs" >1.0</text>
<path d="M232.3 636.9L241.3 645.9M241.3 636.9L232.3 645.9" stroke-width="1.15" fill="none"/>
<text x="245.3" y="646.3" font-size="20.6" textLength="21.2" lengthAdjust="spacingAndGlyphs" >10</text>
<text x="266.6" y="639.5" font-size="11.6" textLength="5.2" lengthAdjust="spacingAndGlyphs" >4</text>
<text x="350.0" y="646.3" font-size="20.6" textLength="25.6" lengthAdjust="spacingAndGlyphs" >1.0</text>
<path d="M383.2 636.9L392.2 645.9M392.2 636.9L383.2 645.9" stroke-width="1.15" fill="none"/>
<text x="396.2" y="646.3" font-size="20.6" textLength="21.2" lengthAdjust="spacingAndGlyphs" >10</text>
<text x="417.5" y="639.5" font-size="11.6" textLength="5.2" lengthAdjust="spacingAndGlyphs" >5</text>
<text x="502.8" y="646.3" font-size="20.6" textLength="25.6" lengthAdjust="spacingAndGlyphs" >1.0</text>
<path d="M536.0 636.9L545.0 645.9M545.0 636.9L536.0 645.9" stroke-width="1.15" fill="none"/>
<text x="549.0" y="646.3" font-size="20.6" textLength="21.2" lengthAdjust="spacingAndGlyphs" >10</text>
<text x="570.3" y="639.5" font-size="11.6" textLength="5.2" lengthAdjust="spacingAndGlyphs" >6</text>
<text x="648.5" y="646.3" font-size="20.6" textLength="25.6" lengthAdjust="spacingAndGlyphs" >1.0</text>
<path d="M681.7 636.9L690.7 645.9M690.7 636.9L681.7 645.9" stroke-width="1.15" fill="none"/>
<text x="694.7" y="646.3" font-size="20.6" textLength="21.2" lengthAdjust="spacingAndGlyphs" >10</text>
<text x="716.0" y="639.5" font-size="11.6" textLength="5.2" lengthAdjust="spacingAndGlyphs" >7</text>
<text x="799.7" y="646.3" font-size="20.6" textLength="25.6" lengthAdjust="spacingAndGlyphs" >1.0</text>
<path d="M832.9 636.9L841.9 645.9M841.9 636.9L832.9 645.9" stroke-width="1.15" fill="none"/>
<text x="845.9" y="646.3" font-size="20.6" textLength="21.2" lengthAdjust="spacingAndGlyphs" >10</text>
<text x="867.2" y="639.5" font-size="11.6" textLength="5.2" lengthAdjust="spacingAndGlyphs" >8</text>
<text x="399.4" y="676.2" font-size="20.6" textLength="137.0" lengthAdjust="spacingAndGlyphs" >Cycles to Failure</text>
<g transform="translate(27,0) rotate(-90)">
<text x="-354.5" y="0.0" font-size="23.5" textLength="12.9" lengthAdjust="spacingAndGlyphs" font-style="italic">σ</text>
<text x="-340.8" y="2.4" font-size="11" textLength="10.8" lengthAdjust="spacingAndGlyphs" >eff</text>
<path d="M-325.9 1.2L-316.0 -15.6" stroke-width="1.15" fill="none"/>
<text x="-314.9" y="0.0" font-size="22.6" textLength="12.0" lengthAdjust="spacingAndGlyphs" >M</text>
<text x="-302.9" y="0.0" font-size="22.6" textLength="9.6" lengthAdjust="spacingAndGlyphs" >P</text>
<text x="-292.6" y="0.0" font-size="22.6" textLength="8.0" lengthAdjust="spacingAndGlyphs" >a</text>
</g>
<text x="219.3" y="734.8" font-size="22.5" textLength="22.6" lengthAdjust="spacingAndGlyphs" font-weight="bold">10</text>
<text x="441.4" y="734.8" font-size="22.5" textLength="43.4" lengthAdjust="spacingAndGlyphs" font-weight="bold">TC4</text>
<text x="664.0" y="723.4" font-size="14" textLength="4.4" lengthAdjust="spacingAndGlyphs" >[</text>
<text x="668.3" y="724.3" font-size="13.3" textLength="13.2" lengthAdjust="spacingAndGlyphs" font-weight="bold">65</text>
<text x="681.6" y="723.4" font-size="14" textLength="4.4" lengthAdjust="spacingAndGlyphs" >]</text>
<text x="77.6" y="772.7" font-size="21.5" textLength="34.0" lengthAdjust="spacingAndGlyphs" >Fig.</text>
<text x="118.2" y="772.7" font-size="21.5" textLength="22.6" lengthAdjust="spacingAndGlyphs" >10</text>
<text x="166.4" y="772.7" font-size="21.5" textLength="68.2" lengthAdjust="spacingAndGlyphs" >Fatigue</text>
<text x="245.0" y="772.7" font-size="21.5" textLength="91.1" lengthAdjust="spacingAndGlyphs" >properties</text>
<text x="343.5" y="772.7" font-size="21.5" textLength="16.6" lengthAdjust="spacingAndGlyphs" >of</text>
<text x="368.9" y="772.7" font-size="21.5" textLength="37.4" lengthAdjust="spacingAndGlyphs" >TC4</text>
<text x="416.7" y="772.7" font-size="21.5" textLength="52.1" lengthAdjust="spacingAndGlyphs" >alloys</text>
<text x="479.2" y="772.7" font-size="21.5" textLength="79.3" lengthAdjust="spacingAndGlyphs" >prepared</text>
<text x="568.6" y="772.7" font-size="21.5" textLength="22.3" lengthAdjust="spacingAndGlyphs" >by</text>
<text x="599.2" y="772.7" font-size="21.5" textLength="76.2" lengthAdjust="spacingAndGlyphs" >different</text>
<text x="685.5" y="772.7" font-size="21.5" textLength="87.2" lengthAdjust="spacingAndGlyphs" >processes</text>
<text x="777.2" y="761.4" font-size="13.2" textLength="21.2" lengthAdjust="spacingAndGlyphs" >[65]</text>
<text x="190.74" y="733.6" font-size="21.4" font-family="'Liberation Serif', 'Noto Serif CJK SC', serif">图</text>
<text x="269.10 292.74 316.55 340.50 365.18 388.54 412.49" y="733.6" font-size="21.4" font-family="'Liberation Serif', 'Noto Serif CJK SC', serif">不同工艺制备的</text>
<text x="493.21 517.36 541.27 565.50 589.17 612.88 637.06" y="733.6" font-size="21.4" font-family="'Liberation Serif', 'Noto Serif CJK SC', serif">合金的疲劳性能</text>
</g>
</svg>
</body></html>
